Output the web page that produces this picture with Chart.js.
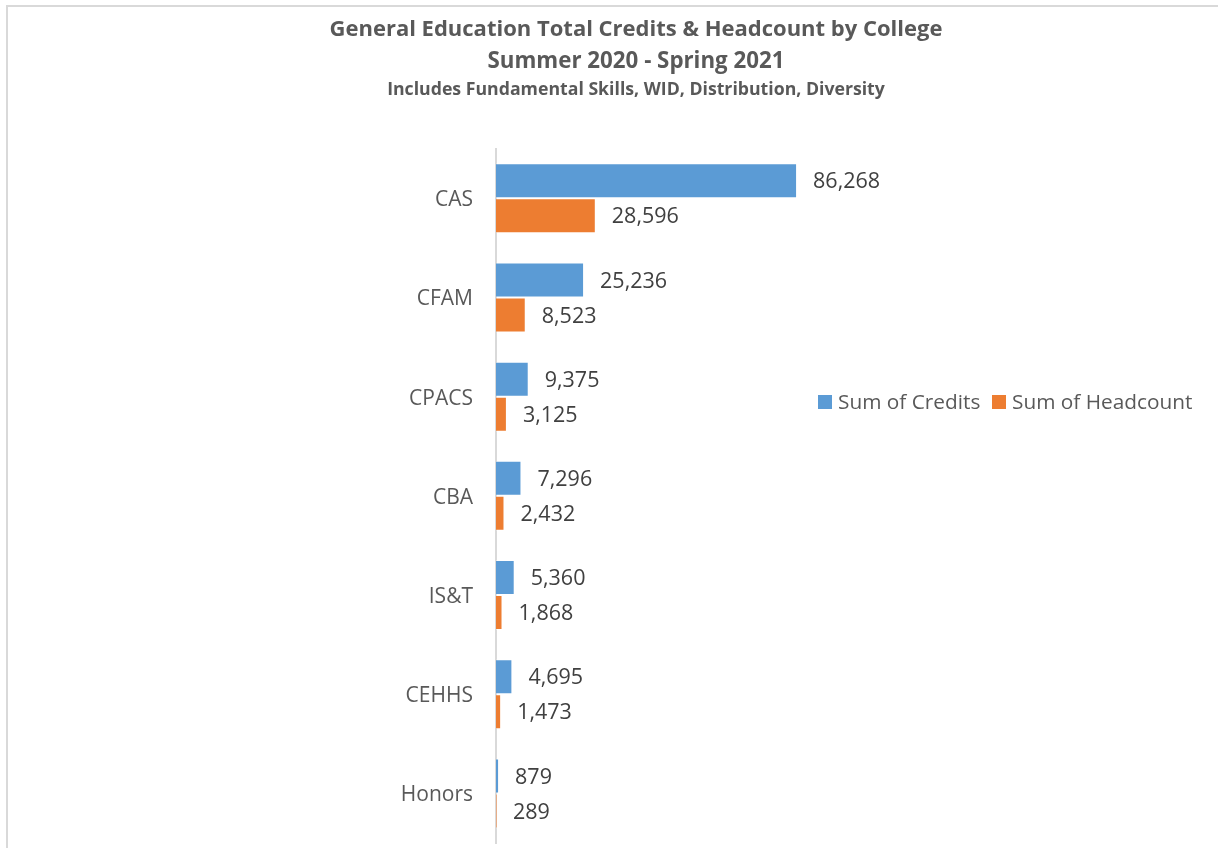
<!DOCTYPE html>
<html>
<head>
<meta charset="utf-8">
<script src="https://cdn.jsdelivr.net/npm/chart.js@4.4.1/dist/chart.umd.min.js"></script>
<style>
  html, body { margin: 0; padding: 0; background: #ffffff; }
  #wrap { position: relative; width: 1218px; height: 848px; overflow: hidden; background: #fff; }
  #frame { position: absolute; left: 6px; top: 5px; right: -10px; bottom: -10px; border-left: 2px solid #d9d9d9; border-top: 2px solid #d9d9d9; }
  canvas { position: absolute; left: 0; top: 0; }
  .t { position: absolute; left: 56px; width: 1160px; text-align: center; font-family: "Open Sans", sans-serif; font-weight: bold; color: #595959; white-space: nowrap; }
  #t1 { top: 11.5px; font-size: 22px; line-height: 30px; }
  #t2 { top: 44.8px; font-size: 22.3px; line-height: 30px; }
  #t3 { top: 77px; font-size: 17.7px; line-height: 22px; }
  .lg { position: absolute; font-family: "Open Sans", sans-serif; font-size: 20.8px; color: #595959; white-space: nowrap; line-height: 28px; }
  .sw { position: absolute; width: 14px; height: 14px; }
</style>
</head>
<body>
<div id="wrap">
  <div id="frame"></div>
  <canvas id="c" width="1218" height="848"></canvas>
  <div class="t" id="t1">General Education Total Credits &amp; Headcount by College</div>
  <div class="t" id="t2">Summer 2020 - Spring 2021</div>
  <div class="t" id="t3">Includes Fundamental Skills, WID, Distribution, Diversity</div>
  <div id="legend"></div>
</div>
<script>
const categories = ['CAS', 'CFAM', 'CPACS', 'CBA', 'IS&T', 'CEHHS', 'Honors'];
const seriesNames = ['Sum of Credits', 'Sum of Headcount'];
const credits = [86268, 25236, 9375, 7296, 5360, 4695, 879];
const headcount = [28596, 8523, 3125, 2432, 1868, 1473, 289];
const seriesColors = ['#5B9BD5', '#ED7D31'];

const valueLabels = {
  id: 'valueLabels',
  afterDatasetsDraw(chart) {
    const ctx = chart.ctx;
    ctx.save();
    ctx.font = '21.5px "Open Sans"';
    ctx.fillStyle = '#404040';
    ctx.textAlign = 'left';
    ctx.textBaseline = 'middle';
    chart.data.datasets.forEach((ds, di) => {
      const meta = chart.getDatasetMeta(di);
      meta.data.forEach((bar, i) => {
        ctx.fillText(ds.data[i].toLocaleString('en-US'), bar.x + 16, bar.y + 1.5);
      });
    });
    ctx.restore();
  }
};

new Chart(document.getElementById('c'), {
  type: 'bar',
  data: {
    labels: categories,
    datasets: [
      { label: seriesNames[0], data: credits, backgroundColor: seriesColors[0], borderColor: 'rgba(255,255,255,0.35)', borderWidth: 1 },
      { label: seriesNames[1], data: headcount, backgroundColor: seriesColors[1], borderColor: 'rgba(255,255,255,0.35)', borderWidth: 1 }
    ]
  },
  options: {
    indexAxis: 'y',
    responsive: false,
    animation: false,
    devicePixelRatio: 1,
    layout: { padding: { left: 0, top: 148.7, bottom: 5, right: 373 } },
    datasets: { bar: { categoryPercentage: 0.706, barPercentage: 1.0 } },
    plugins: { legend: { display: false }, title: { display: false }, tooltip: { enabled: false } },
    scales: {
      x: { display: false, min: 0, max: 100000 },
      y: {
        afterFit(scale) { scale.width = 496; scale.paddingTop = 0; scale.paddingBottom = 0; },
        grid: { display: false, drawTicks: false },
        border: { display: true, color: '#d9d9d9', width: 2 },
        ticks: { color: '#595959', font: { family: 'Open Sans', size: 21 }, padding: 23, labelOffset: 2 }
      }
    }
  },
  plugins: [valueLabels]
});

const legend = document.getElementById('legend');
const legendX = [[818, 838], [992, 1012]];
seriesNames.forEach((name, i) => {
  const sw = document.createElement('div');
  sw.className = 'sw';
  sw.style.left = legendX[i][0] + 'px';
  sw.style.top = '395px';
  sw.style.background = seriesColors[i];
  legend.appendChild(sw);
  const tx = document.createElement('div');
  tx.className = 'lg';
  tx.style.left = legendX[i][1] + 'px';
  tx.style.top = '387px';
  tx.textContent = name;
  legend.appendChild(tx);
});
</script>
</body>
</html>
